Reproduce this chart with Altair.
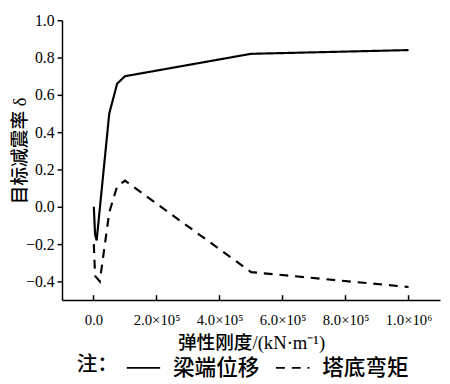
import altair as alt
import pandas as pd

# 梁端位移 (solid)
k_beam = [1000, 5000, 10000, 50000, 75000, 100000, 500000, 1000000]
d_beam = [0.0, -0.15, -0.18, 0.50, 0.66, 0.70, 0.82, 0.84]
# 塔底弯矩 (dashed)
k_tower = [1000, 5000, 20000, 50000, 75000, 100000, 500000, 1000000]
d_tower = [-0.20, -0.37, -0.40, -0.03, 0.11, 0.14, -0.35, -0.43]

series_names = ["梁端位移", "塔底弯矩"]
x_ticks = [0, 200000, 400000, 600000, 800000, 1000000]
x_tick_labels = ["0.0", "2.0×10⁵", "4.0×10⁵", "6.0×10⁵", "8.0×10⁵", "1.0×10⁶"]
y_ticks = [-0.4, -0.2, 0.0, 0.2, 0.4, 0.6, 0.8, 1.0]

rows = []
for i, (k, d) in enumerate(zip(k_beam, d_beam)):
    rows.append({"k": k, "d": d, "s": series_names[0], "o": i})
for i, (k, d) in enumerate(zip(k_tower, d_tower)):
    rows.append({"k": k, "d": d, "s": series_names[1], "o": i})
df = pd.DataFrame(rows)

ticks_df = pd.DataFrame({"k": x_ticks})

NUMFONT = "Liberation Serif"
FONT = "Liberation Serif, Noto Sans CJK SC"
W, H = 385, 285

label_expr = "{" + ",".join(f"'{v}':'{l}'" for v, l in zip(x_ticks, x_tick_labels)) + "}[datum.value]"

xscale = alt.Scale(domain=[-100000, 1100000], nice=False, zero=False)
yscale = alt.Scale(domain=[-0.5, 1.0], nice=False, zero=False)

lines = alt.Chart(df).mark_line(strokeWidth=2.2, color="black").encode(
    x=alt.X("k:Q", scale=xscale,
            axis=alt.Axis(values=x_ticks, labelExpr=label_expr, grid=False,
                          ticks=False, domainColor="black", domainWidth=1.5,
                          labelFont=NUMFONT, labelFontSize=15, labelColor="black",
                          labelPadding=13,
                          title="弹性刚度/(kN·m⁻¹)", titleFont=FONT,
                          titleFontSize=19, titleFontWeight=500,
                          titleColor="black", titlePadding=6)),
    y=alt.Y("d:Q", scale=yscale,
            axis=alt.Axis(values=y_ticks, format=".1f", grid=False,
                          tickColor="black", tickSize=5, tickWidth=1.5,
                          domainColor="black", domainWidth=1.5,
                          labelFont=NUMFONT, labelFontSize=16, labelColor="black",
                          labelPadding=3,
                          title="目标减震率 δ", titleFont=FONT,
                          titleFontSize=19, titleFontWeight=500,
                          titleColor="black", titleX=-43, titleY=H / 2 - 10,
                          titleBaseline="middle", titleAlign="center")),
    strokeDash=alt.StrokeDash("s:N",
        scale=alt.Scale(domain=series_names, range=[[1, 0], [9, 7]]),
        legend=alt.Legend(title="注：", orient="none", legendX=15, legendY=336,
                          direction="horizontal",
                          titleOrient="left", titleFont=FONT, titleFontSize=21,
                          titleFontWeight=500, titleColor="black",
                          titlePadding=8,
                          labelFont=FONT, labelFontSize=22, labelColor="black",
                          labelFontWeight=500,
                          labelOffset=12,
                          symbolType="stroke", symbolStrokeColor="black",
                          symbolStrokeWidth=1.8, symbolSize=1150,
                          columnPadding=12, padding=0)),
    order="o:Q",
)

xticks = alt.Chart(ticks_df).mark_rule(color="black", strokeWidth=1.5).encode(
    x=alt.X("k:Q", scale=xscale),
    y=alt.value(H),
    y2=alt.value(H - 5),
)

chart = alt.layer(lines, xticks).properties(
    width=W, height=H,
    autosize=alt.AutoSizeParams(type="none"),
    padding={"left": 55, "top": 9, "right": 2, "bottom": 82},
    background="white",
).configure_view(stroke=None)

chart.save("out.html", embed_options={"renderer": "svg", "actions": False})
